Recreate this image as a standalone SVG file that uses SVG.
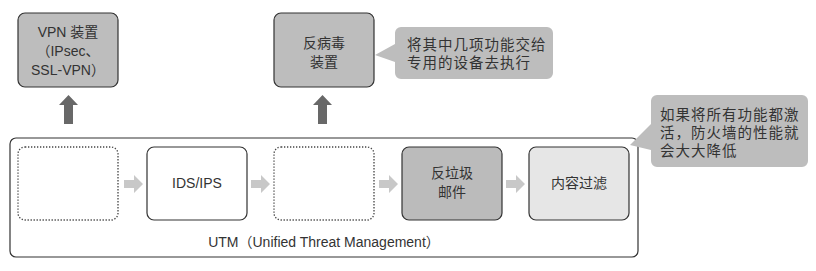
<svg xmlns="http://www.w3.org/2000/svg" width="816" height="271" viewBox="0 0 816 271">
<defs>
<style>
text{font-family:"Liberation Sans","Noto Sans CJK SC",sans-serif;font-size:14px;fill:#333;text-anchor:middle;dominant-baseline:central}
.box{stroke:#333;stroke-width:1.2}
.dot{fill:#fff;stroke:#444;stroke-width:1.3;stroke-dasharray:1.3 1.7}
.call{fill:#bdbdbd}
.ct{text-anchor:start;font-size:14.5px;letter-spacing:1px}
.up{fill:#686868}
.sm{fill:#c8c8c8}
</style>
</defs>
<g id="utm">
<rect x="10" y="138" width="628" height="119" rx="6" fill="#fff" stroke="#333" stroke-width="1.2"/>
<text x="324" y="242">UTM（Unified Threat Management）</text>
</g>
<g id="box1"><rect class="dot" x="18" y="147" width="100" height="73" rx="7"/></g>
<g id="ids"><rect class="box" x="147" y="147" width="100" height="73" rx="7" fill="#fff"/><text x="197" y="183">IDS/IPS</text></g>
<g id="box3"><rect class="dot" x="274" y="147" width="100" height="73" rx="7"/></g>
<g id="spam"><rect class="box" x="402" y="147" width="100" height="73" rx="7" fill="#bbbbbb"/><text x="452" y="173">反垃圾</text><text x="452" y="192">邮件</text></g>
<g id="filter"><rect class="box" x="529" y="147" width="100" height="73" rx="7" fill="#e6e6e6"/><text x="579" y="183">内容过滤</text></g>
<g id="vpn"><rect class="box" x="18" y="13" width="100" height="74" rx="7" fill="#bdbdbd"/><text x="68" y="32">VPN 装置</text><text x="68" y="51">（IPsec、</text><text x="68" y="70">SSL-VPN）</text></g>
<g id="av"><rect class="box" x="274" y="13" width="100" height="74" rx="7" fill="#bdbdbd"/><text x="324" y="43">反病毒</text><text x="324" y="62">装置</text></g>
<g id="callout1"><path class="call" d="M401,27 H547 A6,6 0 0 1 553,33 V73 A6,6 0 0 1 547,79 H401 A6,6 0 0 1 395,73 V62 L375,55 L395,44 V33 A6,6 0 0 1 401,27 Z"/><text class="ct" x="407" y="45">将其中几项功能交给</text><text class="ct" x="407" y="63">专用的设备去执行</text></g>
<g id="callout2"><path class="call" d="M657,95 H802 A6,6 0 0 1 808,101 V161 A6,6 0 0 1 802,167 H657 A6,6 0 0 1 651,161 V150 L630,145 L651,124 V101 A6,6 0 0 1 657,95 Z"/><text class="ct" x="660" y="115">如果将所有功能都激</text><text class="ct" x="660" y="133">活，防火墙的性能就</text><text class="ct" x="660" y="151">会大大降低</text></g>
<g id="connectors">
<path class="up" d="M64,124 V105 H59 L68.5,95 L78,105 H73 V124 Z"/>
<path class="up" d="M318,124 V105 H313 L322.5,95 L332,105 H327 V124 Z"/>
<path class="sm" d="M124,180 H134 V175 L143,184 L134,193 V188 H124 Z"/>
<path class="sm" d="M251,180 H261 V175 L270,184 L261,193 V188 H251 Z"/>
<path class="sm" d="M379,180 H389 V175 L398,184 L389,193 V188 H379 Z"/>
<path class="sm" d="M506,180 H516 V175 L525,184 L516,193 V188 H506 Z"/>
</g>
</svg>
